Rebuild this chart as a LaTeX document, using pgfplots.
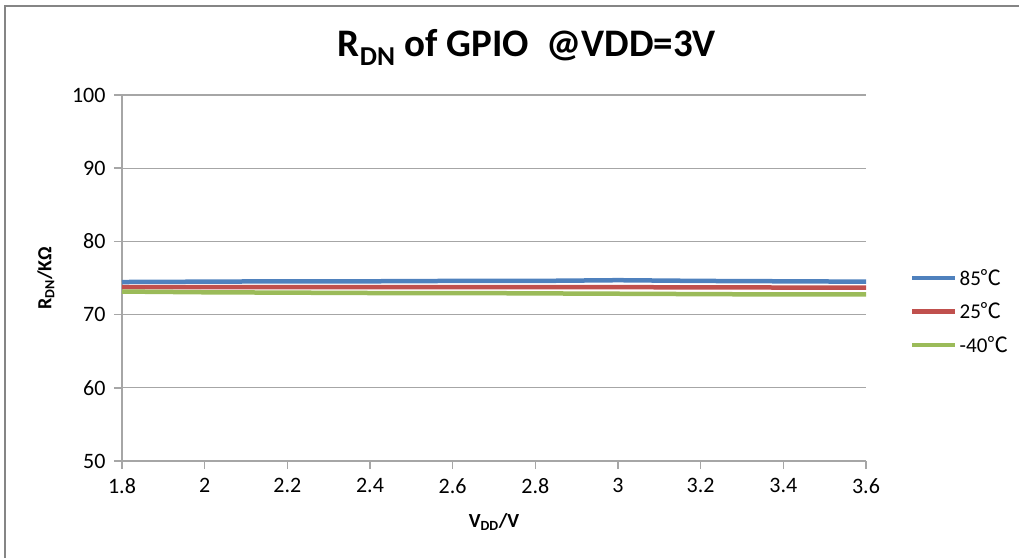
\documentclass[border=0pt]{standalone}
\usepackage{fontspec}
\setmainfont{Carlito}
\newfontfamily\cjk{Noto Sans CJK SC}
\usepackage{pgfplots}
\pgfplotsset{compat=1.18}
\definecolor{cblue}{HTML}{4F81BD}
\definecolor{cred}{HTML}{C0504D}
\definecolor{cgreen}{HTML}{9BBB59}
\definecolor{cgrid}{HTML}{A6A6A6}
\newcommand{\degc}{{\cjk ℃}}
\begin{document}
\begin{tikzpicture}[x=1pt,y=1pt]
\useasboundingbox (-122,-97) rectangle (897,461);
\draw[color=cgrid!80!black, line width=1.5pt] (-117,-97) -- (-117,455) -- (897,455);
\begin{axis}[
  at={(0,0)}, anchor=origin,
  scale only axis, width=744pt, height=366pt,
  xmin=1.8, xmax=3.6, ymin=50, ymax=100,
  xtick={1.8,2,...,3.6},
  xticklabels={1.8,2,2.2,2.4,2.6,2.8,3,3.2,3.4,3.6},
  ytick={50,60,...,100},
  axis x line*=bottom, axis y line*=left,
  axis line style={cgrid, line width=1.5pt, -},
  ymajorgrids, grid style={cgrid, line width=1.2pt},
  tick style={cgrid, line width=1.5pt},
  major tick length=8pt,
  tick align=outside,
  /pgf/number format/assume math mode=true,
  ticklabel style={font=\fontsize{22}{25}\selectfont, text=black},
  yticklabel style={xshift=-5pt},
  xticklabel style={yshift=-6pt},
  xlabel={\textbf{V\textsubscript{DD}/V}},
  ylabel={\textbf{R\textsubscript{DN}/KΩ}},
  xlabel style={font=\fontsize{20}{24}\selectfont, at={(axis description cs:0.5,0)}, anchor=north, yshift=-49pt},
  ylabel style={font=\fontsize{20}{24}\selectfont, at={(axis description cs:0,0.5)}, anchor=south, yshift=64pt},
  title={\textbf{R\textsubscript{DN} of GPIO\ \ @VDD=3V}},
  title style={font=\fontsize{39}{44}\selectfont, at={(axis description cs:0.5,1)}, anchor=south, xshift=33pt, yshift=20pt},
  legend style={draw=none, fill=none, at={(axis cs:3.6,74.5)}, anchor=west, xshift=44pt, yshift=-30pt,
    font=\fontsize{21}{24}\selectfont, row sep=12pt, legend cell align=left, inner sep=0pt},
  legend image code/.code={\draw[#1, line width=4.5pt] (0pt,0pt) -- (43pt,0pt);},
  clip=false,
]
\addplot[cblue, line width=4.5pt] coordinates {
(1.8,74.45) (2.0,74.5) (2.2,74.55) (2.4,74.55) (2.6,74.6) (2.8,74.6) (3.0,74.7) (3.2,74.6) (3.4,74.55) (3.6,74.5)};
\addlegendentry{85\degc}
\addplot[cred, line width=4.5pt] coordinates {
(1.8,73.75) (2.0,73.75) (2.2,73.75) (2.4,73.75) (2.6,73.75) (2.8,73.75) (3.0,73.75) (3.2,73.72) (3.4,73.7) (3.6,73.7)};
\addlegendentry{25\degc}
\addplot[cgreen, line width=4.5pt] coordinates {
(1.8,73.15) (2.0,73.05) (2.2,73.0) (2.4,72.95) (2.6,72.95) (2.8,72.9) (3.0,72.85) (3.2,72.8) (3.4,72.75) (3.6,72.75)};
\addlegendentry{-40\degc}
\end{axis}
\end{tikzpicture}
\end{document}
